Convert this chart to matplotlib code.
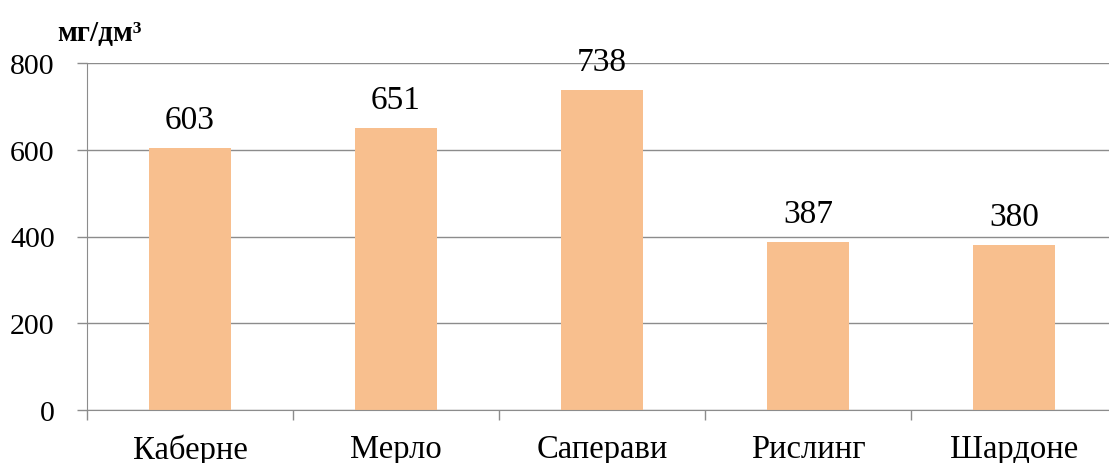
import matplotlib
matplotlib.use("Agg")
import matplotlib.pyplot as plt
import numpy as np

categories = ["Каберне", "Мерло", "Саперави", "Рислинг", "Шардоне"]
values = [603, 651, 738, 387, 380]
yticks = [0, 200, 400, 600, 800]
unit_label = "мг/дм³"

plt.rcParams['font.family'] = ['Liberation Serif', 'DejaVu Serif']

fig = plt.figure(figsize=(11.09, 4.64), dpi=100)
ax = fig.add_axes([87/1109, 53/464, 1030/1109, 347/464])

x = np.arange(len(categories))
ax.bar(x, values, width=0.4, color='#F8BF8E', zorder=2)
ax.set_xlim(-0.5, len(categories) - 0.5)
ax.set_ylim(0, 800)
ax.set_yticks(yticks)
ax.set_yticklabels([str(t) for t in yticks], fontsize=21.5)
ax.yaxis.grid(True, color='#8c8c8c', linewidth=1.0, zorder=0)
ax.set_axisbelow(True)

for xi, v in zip(x, values):
    ax.text(xi, v + 30, str(v), ha='center', va='bottom', fontsize=24)

ax.set_xticks(x)
ax.set_xticklabels(categories, fontsize=23.5)
ax.tick_params(axis='x', length=0, pad=17)
ax.set_xticks(np.arange(len(categories) + 1) - 0.5, minor=True)
ax.tick_params(axis='x', which='minor', length=7.2, color='#8c8c8c', width=1)
ax.tick_params(axis='y', length=7.2, color='#8c8c8c', width=1, pad=16, direction='out')

for s in ['top', 'right']:
    ax.spines[s].set_visible(False)
ax.spines['left'].set_color('#8c8c8c')
ax.spines['bottom'].set_color('#8c8c8c')

fig.text(57/1109, 1 - 33/464, unit_label, fontsize=21, fontweight='bold', ha='left', va='center')

fig.savefig("out.png", dpi=100)
